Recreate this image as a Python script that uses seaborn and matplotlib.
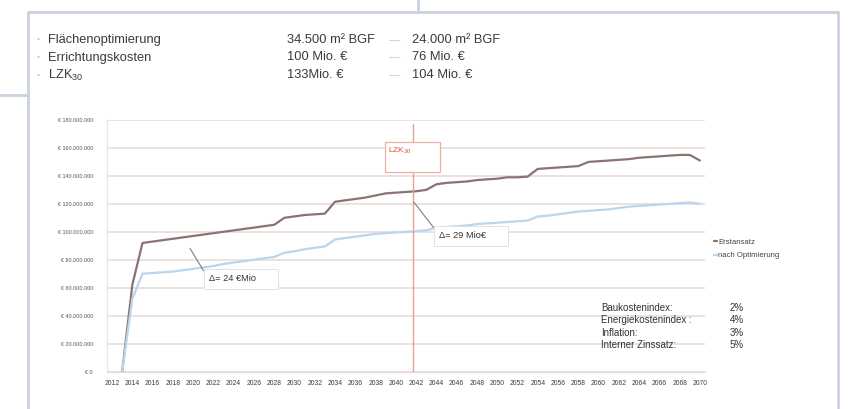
import matplotlib
matplotlib.use("Agg")
import matplotlib.pyplot as plt
import matplotlib.ticker as mticker
from matplotlib.lines import Line2D
from matplotlib.patches import Rectangle
import pandas as pd
import seaborn as sns

# Lebenszykluskosten (kumuliert, Mio. €) je Variante
years = list(range(2013, 2071))
erstansatz = [0, 62, 92, 93, 94, 95, 96, 97, 98, 99,
              100, 101, 102, 103, 104, 105, 110, 111, 112, 112.5,
              113, 121.5, 122.5, 123.5, 124.5, 126, 127.5, 128, 128.5, 129,
              130, 134, 135, 135.5, 136, 137, 137.5, 138, 139, 139,
              139.5, 145, 145.5, 146, 146.5, 147, 150, 150.5, 151, 151.5,
              152, 153, 153.5, 154, 154.5, 155, 155, 151]
optimiert = [0, 52, 70, 70.5, 71, 71.5, 72.5, 73.5, 74.5, 75.5,
             77, 78, 79, 80, 81, 82, 85, 86, 87.5, 88.5,
             89.5, 94.5, 95.5, 96.5, 97.5, 98.5, 99, 99.5, 100, 100.5,
             101, 103, 103.5, 104, 104.5, 105.5, 106, 106.5, 107, 107.5,
             108, 111, 111.5, 112.5, 113.5, 114.5, 115, 115.5, 116, 117,
             118, 118.5, 119, 119.5, 120, 120.5, 121, 120]
series_names = ["Erstansatz", "nach Optimierung"]
series_colors = ["#8a7472", "#b9d5ef"]

year_ticks = list(range(2012, 2071, 2))
y_ticks = list(range(0, 180_000_001, 20_000_000))

kennzahlen = ["Flächenoptimierung", "Errichtungskosten", "LZK$_{30}$"]
vorher = ["34.500 m² BGF", "100 Mio. €", "133Mio. €"]
nachher = ["24.000 m² BGF", "76 Mio. €", "104 Mio. €"]

parameter = ["Baukostenindex:", "Energiekostenindex :", "Inflation:", "Interner Zinssatz:"]
parameter_werte = ["2%", "4%", "3%", "5%"]

lzk_jahr = 2042
delta_texte = ["Δ= 24 €Mio", "Δ= 29 Mio€"]

sns.set_theme(style="white")
plt.rcParams["font.family"] = ["Liberation Sans", "DejaVu Sans"]
plt.rcParams["mathtext.fontset"] = "custom"
plt.rcParams["mathtext.rm"] = "Liberation Sans"
plt.rcParams["mathtext.it"] = "Liberation Sans:italic"

df = pd.DataFrame({
    "Jahr": years * 2,
    "Kosten": [v * 1e6 for v in erstansatz + optimiert],
    "Variante": [series_names[0]] * len(years) + [series_names[1]] * len(years),
})

W, H = 849, 409
fig = plt.figure(figsize=(W / 100, H / 100), dpi=100)
fig.patch.set_facecolor("white")


def fx(px):
    return px / W


def fy(py):
    return 1 - py / H


ax = fig.add_axes([fx(107), fy(371.5), fx(705) - fx(107), fy(120) - fy(371.5)])

sns.lineplot(data=df, x="Jahr", y="Kosten", hue="Variante",
             palette=dict(zip(series_names, series_colors)),
             linewidth=1.6, ax=ax)

ax.set_xlim(2011.5, 2070.5)
ax.set_ylim(0, 180_000_000)
ax.set_xticks(year_ticks)
ax.set_xticks(list(range(2012, 2071)), minor=True)
ax.set_yticks(y_ticks)
ax.yaxis.set_major_formatter(mticker.FuncFormatter(
    lambda v, _: "€ 0" if v == 0 else "€ " + f"{int(v):,}".replace(",", ".")))
ax.tick_params(axis="x", labelsize=4.9, labelcolor="#3c3c3c", length=0, pad=6)
ax.tick_params(axis="x", which="minor", length=2, color="#d9d9d9", width=0.6)
ax.tick_params(axis="y", labelsize=3.9, labelcolor="#555555", length=0, pad=10)
ax.set_xlabel("")
ax.set_ylabel("")
ax.grid(axis="y", color="#eadedb", linewidth=1.3)
ax.set_axisbelow(True)
for side in ["top", "right"]:
    ax.spines[side].set_visible(False)
ax.spines["left"].set_color("#e6e6e6")
ax.spines["left"].set_linewidth(0.8)
ax.spines["bottom"].set_color("#dcdcdc")
ax.spines["bottom"].set_linewidth(0.8)

# Legende rechts neben dem Diagramm
handles, labels = ax.get_legend_handles_labels()
leg = ax.legend(handles, labels, loc="upper left",
                bbox_to_anchor=(fx(711), fy(235)), bbox_transform=fig.transFigure,
                frameon=False, fontsize=5.6, handlelength=0.4, handletextpad=0.15,
                labelspacing=0.8, borderaxespad=0)
for t in leg.get_texts():
    t.set_color("#444444")

# Betrachtungszeitraum LZK30
ax.axvline(lzk_jahr - 0.3, color="#e7a095", linewidth=1.0, ymax=0.985)
ax.add_patch(Rectangle((2038.9, 143e6), 5.5, 21e6, fill=True, facecolor="white",
                       edgecolor="#eab0a6", linewidth=0.9, zorder=3))
ax.text(2039.2, 161.5e6, "LZK$_{30}$", color="#e0503e", fontsize=6,
        ha="left", va="top", zorder=4)

# Differenzen zwischen den Varianten
box = dict(boxstyle="square,pad=0.6", fc="white", ec="#e2e2e2", lw=0.7)
ax.annotate(delta_texte[0] + "      ", xy=(2019.7, 88e6), xytext=(2021.6, 66.5e6),
            fontsize=6.7, color="#333333", ha="left", va="center", bbox=box,
            arrowprops=dict(arrowstyle="-", color="#8a8a8a", lw=0.9,
                            shrinkA=0, shrinkB=0, relpos=(0, 0.3)))
ax.annotate(delta_texte[1] + "      ", xy=(2041.8, 121e6), xytext=(2044.3, 97e6),
            fontsize=6.7, color="#333333", ha="left", va="center", bbox=box,
            arrowprops=dict(arrowstyle="-", color="#8a8a8a", lw=0.9,
                            shrinkA=0, shrinkB=0, relpos=(0, 0.6)))

# Kennzahlen im Kopf
rows_y = [40, 57.5, 75]
for y, k, a, b in zip(rows_y, kennzahlen, vorher, nachher):
    fig.text(fx(37), fy(y), "•", fontsize=6, color="#a9c6e2", ha="left", va="center")
    fig.text(fx(48), fy(y), k, fontsize=9.3, color="#3a3a3a", ha="left", va="center")
    fig.text(fx(287), fy(y), a, fontsize=9.3, color="#3a3a3a", ha="left", va="center")
    fig.text(fx(389), fy(y), "—", fontsize=8, color="#b4cde6", ha="left", va="center")
    fig.text(fx(412), fy(y), b, fontsize=9.3, color="#3a3a3a", ha="left", va="center")

# Annahmen
for i, (p, w) in enumerate(zip(parameter, parameter_werte)):
    y = 308 + i * 12.3
    fig.text(fx(601), fy(y), p, fontsize=7, color="#333333", ha="left", va="center")
    fig.text(fx(730), fy(y), w, fontsize=7, color="#333333", ha="left", va="center")

# Rahmen
frame = dict(color="#c9d3df", linewidth=2.0, transform=fig.transFigure)
fig.add_artist(Line2D([fx(28), fx(838)], [fy(12), fy(12)], **frame))
fig.add_artist(Line2D([fx(838), fx(838)], [fy(12), fy(409)], **frame))
fig.add_artist(Line2D([fx(28), fx(28)], [fy(12), fy(409)], **frame))
fig.add_artist(Line2D([fx(418), fx(418)], [fy(0), fy(12)], **frame))
fig.add_artist(Line2D([fx(0), fx(28)], [fy(95), fy(95)], **frame))

fig.savefig("out.png", dpi=100, facecolor="white")
